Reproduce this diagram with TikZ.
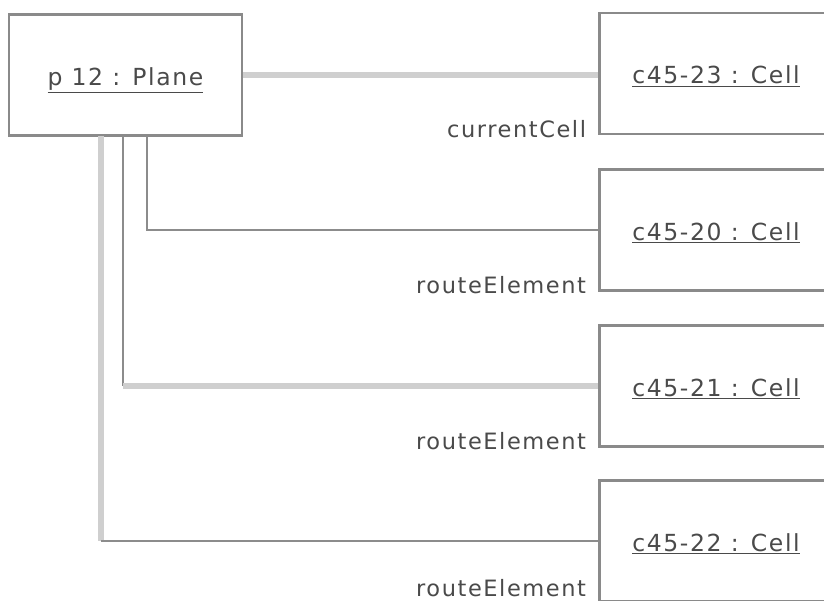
\documentclass[tikz,border=0pt]{standalone}
\usepackage{fontspec}
\setmainfont{DejaVu Sans}[LetterSpace=7]
\usetikzlibrary{calc}
\definecolor{boxgray}{HTML}{8A8A8A}
\definecolor{lightln}{HTML}{CFCFCF}
\definecolor{darkln}{HTML}{8C8C8C}
\definecolor{txtgray}{HTML}{4A4A4A}
\newcommand{\ulname}[1]{\underline{#1}}
\begin{document}
\begin{tikzpicture}[x=1pt,y=-1pt,
  obj/.style={draw=boxgray, line width=2.5pt, minimum width=233pt, minimum height=121pt,
    inner sep=0pt, text=txtgray, text height=21pt, text depth=0pt,
    font=\fontsize{23.5}{27}\selectfont},
  lightline/.style={draw=lightln, line width=5.5pt},
  darkline/.style={draw=darkln, line width=2.5pt},
  lbl/.style={anchor=base east, inner sep=0pt, text=txtgray, font=\fontsize{22.5}{26}\selectfont}]
\useasboundingbox (0,0) rectangle (824,601);
\clip (0,0) rectangle (824,601);
\fill[white] (0,0) rectangle (824,601);
\coordinate (p2) at (147,136);
\coordinate (p3) at (123,136);
\coordinate (p4) at (101,136);
\node[obj] (plane) at (125.5,75) {\ulname{p 12 : Plane}};
\node[obj] (c1) at (716,73.5) {\ulname{c45-23 : Cell}};
\node[obj] (c2) at (716,230) {\ulname{c45-20 : Cell}};
\node[obj] (c3) at (716,386) {\ulname{c45-21 : Cell}};
\node[obj] (c4) at (716,541) {\ulname{c45-22 : Cell}};
\draw[lightline] (plane.east) -- (plane.east -| c1.west);
\draw[darkline] (p2) |- (c2.west);
\draw[darkline] (p3) -- (p3 |- c3.west);
\draw[lightline] (p3 |- c3.west) -- (c3.west);
\draw[lightline] (p4) -- (p4 |- c4.west);
\draw[darkline] (p4 |- c4.west) -- (c4.west);
\node[lbl] (l1) at ($(c1.south west)+(-12,2)$) {currentCell};
\node[lbl] (l2) at ($(c2.south west)+(-12,2)$) {routeElement};
\node[lbl] (l3) at ($(c3.south west)+(-12,2)$) {routeElement};
\node[lbl] (l4) at ($(c4.south west)+(-12,-6.5)$) {routeElement};
\end{tikzpicture}
\end{document}
